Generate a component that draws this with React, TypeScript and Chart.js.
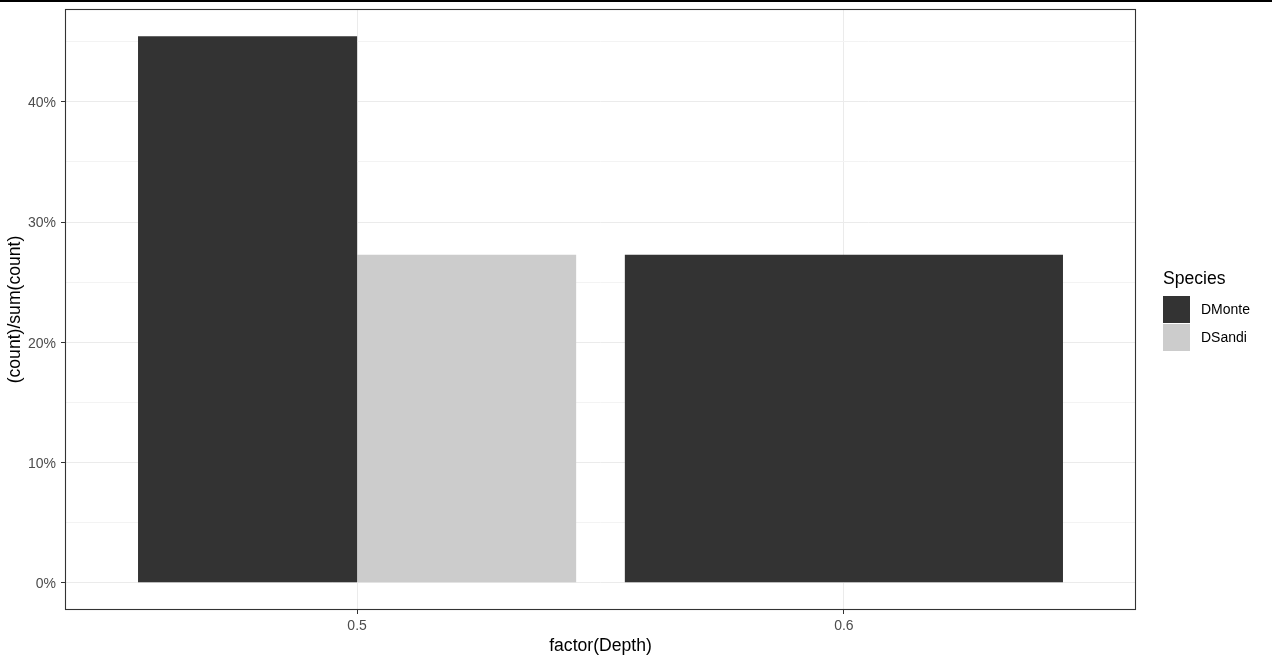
import { useEffect, useRef } from "react"
import { Chart, registerables, type ChartConfiguration } from "chart.js"

Chart.register(...registerables)

// Data
const depths = ["0.5", "0.6"]
const species = ["DMonte", "DSandi"]
const speciesColors = ["#333333", "#CCCCCC"]
const dMonte = [45.45, 27.27]
const dSandi: (number | null)[] = [27.27, null]
const yMajorTicks = [0, 10, 20, 30, 40]
const yMinorTicks = [5, 15, 25, 35, 45]

const FONT = "'Liberation Sans', Arial, sans-serif"

// draws the full panel border the way ggplot's theme_bw does
const panelBorder = {
  id: "panelBorder",
  afterDraw(chart: Chart) {
    const { ctx, chartArea } = chart
    ctx.save()
    ctx.strokeStyle = "#333333"
    ctx.lineWidth = 1.1
    ctx.strokeRect(chartArea.left + 0.5, chartArea.top + 0.5, chartArea.width - 1, chartArea.height - 1)
    ctx.restore()
  },
}

const App = () => {
  const canvasRef = useRef<HTMLCanvasElement>(null)
  const chartRef = useRef<Chart | null>(null)

  useEffect(() => {
    if (!canvasRef.current) return
    if (chartRef.current) chartRef.current.destroy()

    // x position of each category on a linear scale (1, 2, ...)
    const pos = depths.map((_, i) => i + 1)

    // DMonte shares the slot with DSandi where both exist, otherwise it fills it
    const monteGrouped = pos.flatMap((x, i) => (dSandi[i] != null ? [{ x, y: dMonte[i] }] : []))
    const monteSolo = pos.flatMap((x, i) => (dSandi[i] == null ? [{ x, y: dMonte[i] }] : []))
    const sandi = pos.flatMap((x, i) => (dSandi[i] != null ? [{ x, y: dSandi[i] as number }] : []))

    const allVals = [...dMonte, ...dSandi.filter((v): v is number => v != null)]
    const yHi = Math.max(...allVals)
    const yExp = yHi * 0.05

    const config: ChartConfiguration = {
      type: "bar",
      data: {
        datasets: [
          { label: species[0], data: monteGrouped, backgroundColor: speciesColors[0], borderWidth: 0 },
          { label: species[1], data: sandi, backgroundColor: speciesColors[1], borderWidth: 0 },
          { label: species[0], data: monteSolo, backgroundColor: speciesColors[0], borderWidth: 0, grouped: false } as any,
        ],
      },
      options: {
        animation: false,
        responsive: true,
        maintainAspectRatio: false,
        categoryPercentage: 0.9,
        barPercentage: 1,
        layout: { padding: { top: 9, right: 136, left: 0, bottom: 0 } },
        plugins: {
          legend: { display: false },
          tooltip: { enabled: false },
        },
        scales: {
          x: {
            type: "linear",
            offset: false,
            min: 0.4,
            max: depths.length + 0.6,
            afterBuildTicks: (scale: any) => {
              scale.ticks = pos.map((v) => ({ value: v }))
            },
            afterFit: (scale: any) => {
              scale.height = 55
              scale.paddingLeft = 0
              scale.paddingRight = 0
            },
            ticks: {
              color: "#4D4D4D",
              font: { family: FONT, size: 14 },
              padding: 4,
              maxRotation: 0,
              autoSkip: false,
              callback: (v: any) => depths[Number(v) - 1] ?? "",
            },
            grid: {
              offset: false,
              color: "#EBEBEB",
              lineWidth: 1,
              tickColor: "#333333",
              tickLength: 4,
              drawTicks: true,
            },
            border: { display: false },
            title: {
              display: true,
              text: "factor(Depth)",
              color: "#000000",
              font: { family: FONT, size: 17.6 },
              padding: { top: 0, bottom: 8 },
            },
          },
          y: {
            type: "linear",
            min: -yExp,
            max: yHi + yExp,
            afterBuildTicks: (scale: any) => {
              scale.ticks = [...yMajorTicks, ...yMinorTicks].sort((a, b) => a - b).map((v) => ({ value: v }))
            },
            afterFit: (scale: any) => {
              scale.width = 65
              scale.paddingTop = 0
              scale.paddingBottom = 0
            },
            ticks: {
              color: "#4D4D4D",
              font: { family: FONT, size: 14 },
              padding: 5,
              labelOffset: 1.5,
              autoSkip: false,
              callback: (v: any) => (yMajorTicks.includes(Number(v)) ? `${v}%` : ""),
            },
            grid: {
              color: (ctx: any) => (yMajorTicks.includes(ctx.tick?.value) ? "#EBEBEB" : "#F3F3F3"),
              lineWidth: 1,
              tickColor: (ctx: any) => (yMajorTicks.includes(ctx.tick?.value) ? "#333333" : "rgba(0,0,0,0)"),
              tickLength: 4,
              drawTicks: true,
            },
            border: { display: false },
            title: {
              display: true,
              text: "(count)/sum(count)",
              color: "#000000",
              font: { family: FONT, size: 17.6 },
              padding: { top: 4.5, bottom: 0 },
            },
          },
        },
      },
      plugins: [panelBorder],
    }

    chartRef.current = new Chart(canvasRef.current, config)

    return () => {
      if (chartRef.current) {
        chartRef.current.destroy()
        chartRef.current = null
      }
    }
  }, [])

  return (
    <div style={{ position: "fixed", left: 0, top: 0, width: 1272, height: 665, background: "#fff", fontFamily: FONT }}>
      <div style={{ position: "absolute", left: 0, top: 0, width: 1272, height: 2, background: "#000" }} />
      <div style={{ position: "absolute", left: 0, top: 0, width: 1272, height: 665 }}>
        <canvas ref={canvasRef}></canvas>
      </div>
      <div style={{ position: "absolute", left: 1163, top: 268 }}>
        <div style={{ fontSize: 17.6, lineHeight: "20px", color: "#000", height: 27 }}>Species</div>
        {species.map((s, i) => (
          <div key={s} style={{ display: "flex", alignItems: "center", height: 28 }}>
            <div style={{ width: 27, height: 27, background: speciesColors[i] }} />
            <span style={{ fontSize: 14, color: "#000", marginLeft: 11 }}>{s}</span>
          </div>
        ))}
      </div>
    </div>
  )
}

export default App
